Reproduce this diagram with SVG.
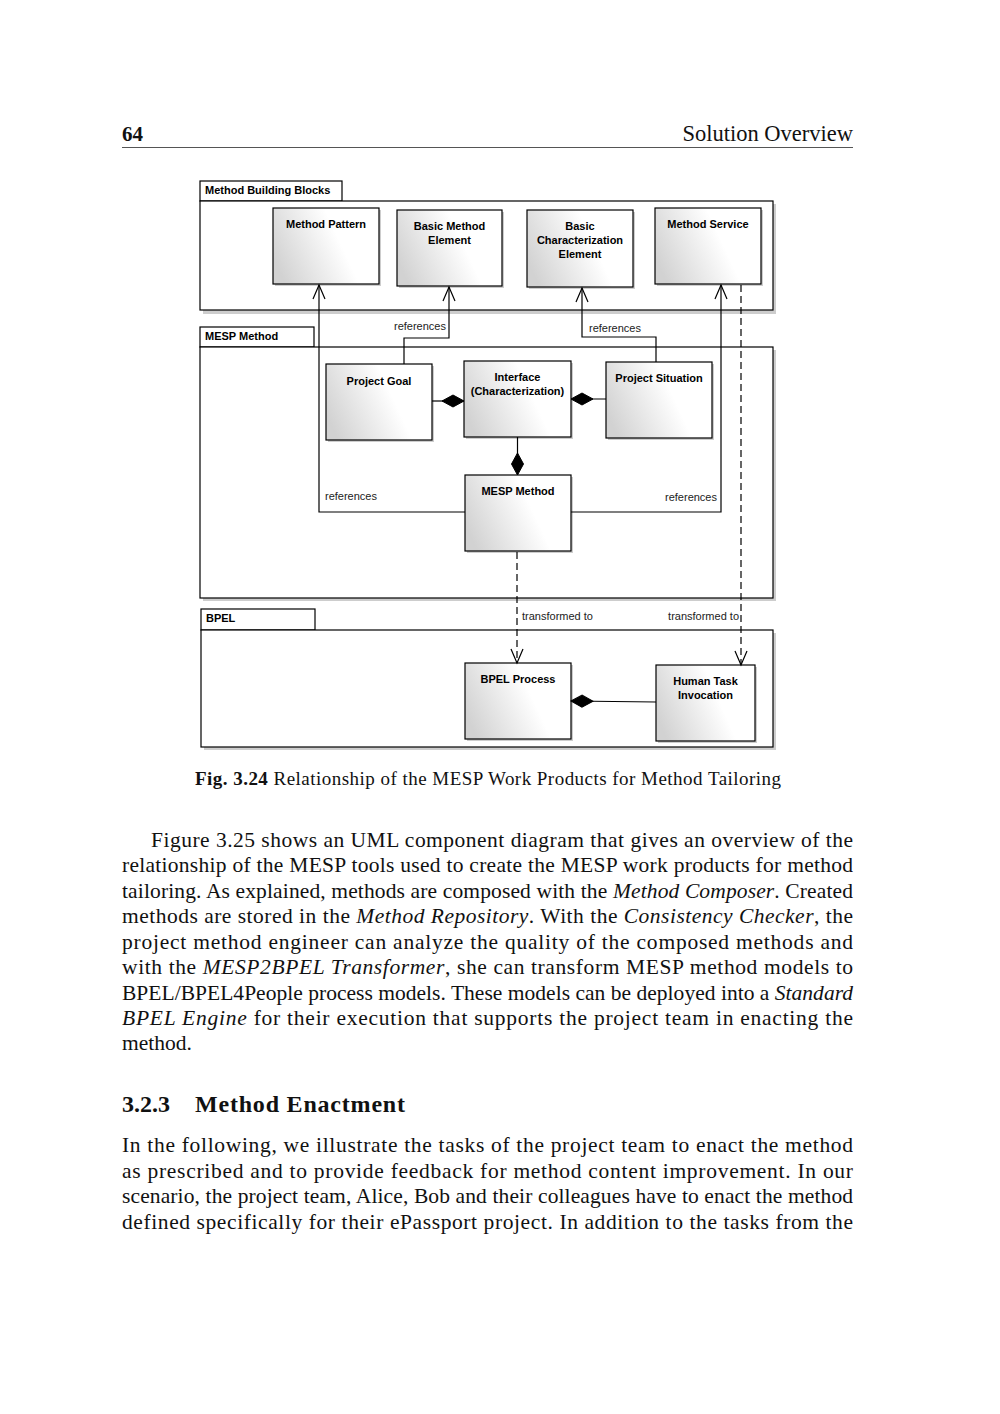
<svg xmlns="http://www.w3.org/2000/svg" width="1000" height="1414" viewBox="0 0 1000 1414">
<style>
.bg{fill:#ffffff}
.node{stroke:#000;stroke-width:1.2;fill:url(#grad)}
.shadow{fill:#b8b8b8;opacity:0.7}
.frame{fill:#fff;stroke:#000;stroke-width:1.2}
.lbl{font-family:"Liberation Sans",Arial,sans-serif;font-size:11px;font-weight:bold;fill:#000}
.rel{font-family:"Liberation Sans",Arial,sans-serif;font-size:11px;fill:#222}
.c{text-anchor:middle}
.conn{fill:none;stroke:#000;stroke-width:1.2}
.dash{stroke-dasharray:7,4}
.body{font-family:"Liberation Serif","Times New Roman",serif;font-size:21.5px;fill:#111}
.it{font-style:italic}
</style>
<defs>
<linearGradient id="grad" x1="0" y1="0.65" x2="0.9" y2="0.35">
<stop offset="0" stop-color="#d2d2d2"/>
<stop offset="0.7" stop-color="#ffffff"/>
<stop offset="1" stop-color="#ffffff"/>
</linearGradient>
<marker id="arrow" markerUnits="userSpaceOnUse" markerWidth="20" markerHeight="20" refX="0" refY="0" orient="auto" overflow="visible">
<path d="M-14,-6 L0,0 L-14,6" fill="none" stroke="#000" stroke-width="1.2"/>
</marker>
<marker id="diamond" markerUnits="userSpaceOnUse" markerWidth="30" markerHeight="20" refX="0" refY="0" orient="auto" overflow="visible">
<path d="M0,0 L11,-6 L22,0 L11,6 Z" fill="#000" stroke="#000" stroke-width="1"/>
</marker>
</defs>
<rect class="bg" x="0" y="0" width="1000" height="1414"/>

<!-- page header -->
<g id="header">
<text x="122" y="141" class="body" style="font-weight:bold;font-size:21px">64</text>
<text x="853" y="141" class="body" style="text-anchor:end;font-size:22.5px">Solution Overview</text>
<line x1="122" y1="147.5" x2="853" y2="147.5" stroke="#555" stroke-width="1"/>
</g>

<!-- packages -->
<g id="pkg-mbb">
<rect class="shadow" x="203" y="204" width="573" height="110"/>
<rect class="frame" x="200" y="181" width="142" height="20"/>
<rect class="frame" x="200" y="201" width="573" height="109"/>
<text x="205" y="194" class="lbl">Method Building Blocks</text>
</g>
<g id="pkg-mesp">
<rect class="shadow" x="203" y="350" width="573" height="251"/>
<rect class="frame" x="200" y="327" width="114" height="20"/>
<rect class="frame" x="200" y="347" width="573" height="251"/>
<text x="205" y="340" class="lbl">MESP Method</text>
</g>
<g id="pkg-bpel">
<rect class="shadow" x="204" y="633" width="572" height="117"/>
<rect class="frame" x="201" y="609" width="114" height="21"/>
<rect class="frame" x="201" y="630" width="572" height="117"/>
<text x="206" y="622" class="lbl">BPEL</text>
</g>

<!-- nodes -->
<g id="method-pattern">
<rect class="shadow" x="275" y="210" width="106" height="76"/>
<rect class="node" x="273" y="208" width="106" height="76"/>
<text x="326" y="228" class="lbl c">Method Pattern</text>
</g>
<g id="basic-method-element">
<rect class="shadow" x="399" y="212" width="105" height="76"/>
<rect class="node" x="397" y="210" width="105" height="76"/>
<text x="449.5" y="230" class="lbl c">Basic Method</text>
<text x="449.5" y="244" class="lbl c">Element</text>
</g>
<g id="basic-characterization-element">
<rect class="shadow" x="529" y="212" width="106" height="77"/>
<rect class="node" x="527" y="210" width="106" height="77"/>
<text x="580" y="230" class="lbl c">Basic</text>
<text x="580" y="244" class="lbl c">Characterization</text>
<text x="580" y="258" class="lbl c">Element</text>
</g>
<g id="method-service">
<rect class="shadow" x="657" y="210" width="106" height="76"/>
<rect class="node" x="655" y="208" width="106" height="76"/>
<text x="708" y="228" class="lbl c">Method Service</text>
</g>
<g id="project-goal">
<rect class="shadow" x="328" y="366" width="106" height="76"/>
<rect class="node" x="326" y="364" width="106" height="76"/>
<text x="379" y="385" class="lbl c">Project Goal</text>
</g>
<g id="interface-characterization">
<rect class="shadow" x="466" y="363" width="107" height="76"/>
<rect class="node" x="464" y="361" width="107" height="76"/>
<text x="517.5" y="381" class="lbl c">Interface</text>
<text x="517.5" y="395" class="lbl c">(Characterization)</text>
</g>
<g id="project-situation">
<rect class="shadow" x="608" y="364" width="106" height="76"/>
<rect class="node" x="606" y="362" width="106" height="76"/>
<text x="659" y="382" class="lbl c">Project Situation</text>
</g>
<g id="mesp-method">
<rect class="shadow" x="467" y="477" width="106" height="76"/>
<rect class="node" x="465" y="475" width="106" height="76"/>
<text x="518" y="495" class="lbl c">MESP Method</text>
</g>
<g id="bpel-process">
<rect class="shadow" x="467" y="665" width="106" height="76"/>
<rect class="node" x="465" y="663" width="106" height="76"/>
<text x="518" y="683" class="lbl c">BPEL Process</text>
</g>
<g id="human-task-invocation">
<rect class="shadow" x="658" y="667" width="99" height="76"/>
<rect class="node" x="656" y="665" width="99" height="76"/>
<text x="705.5" y="685" class="lbl c">Human Task</text>
<text x="705.5" y="699" class="lbl c">Invocation</text>
</g>

<!-- connectors -->
<g id="connectors">
<path class="conn" d="M465,512 H319 V285" marker-end="url(#arrow)"/>
<path class="conn" d="M571,512 H721 V285" marker-end="url(#arrow)"/>
<path class="conn" d="M404,364 V338 H449 V287" marker-end="url(#arrow)"/>
<path class="conn" d="M656,362 V337 H582 V288" marker-end="url(#arrow)"/>
<path class="conn" d="M464,401 H432" marker-start="url(#diamond)"/>
<path class="conn" d="M571,399 H606" marker-start="url(#diamond)"/>
<path class="conn" d="M517.5,475 V437" marker-start="url(#diamond)"/>
<path class="conn" d="M571,701 L656,702" marker-start="url(#diamond)"/>
<path class="conn dash" d="M517,552 V663" marker-end="url(#arrow)"/>
<path class="conn dash" d="M741,285 V665" marker-end="url(#arrow)"/>
<text x="325" y="500" class="rel">references</text>
<text x="717" y="501" class="rel" text-anchor="end">references</text>
<text x="394" y="330" class="rel">references</text>
<text x="589" y="332" class="rel">references</text>
<text x="522" y="620" class="rel">transformed to</text>
<text x="739" y="620" class="rel" text-anchor="end">transformed to</text>
</g>

<!-- caption -->
<g id="caption">
<text x="195" y="785" class="body" style="font-size:19px" textLength="586" lengthAdjust="spacing"><tspan font-weight="bold">Fig. 3.24</tspan> Relationship of the MESP Work Products for Method Tailoring</text>
</g>

<!-- body text -->
<g id="paragraph1">
<text x="151" y="847" class="body" textLength="702" lengthAdjust="spacing">Figure 3.25 shows an UML component diagram that gives an overview of the</text>
<text x="122" y="872" class="body" textLength="731" lengthAdjust="spacing">relationship of the MESP tools used to create the MESP work products for method</text>
<text x="122" y="898" class="body" textLength="731" lengthAdjust="spacing">tailoring. As explained, methods are composed with the <tspan class="it">Method Composer</tspan>. Created</text>
<text x="122" y="923" class="body" textLength="731" lengthAdjust="spacing">methods are stored in the <tspan class="it">Method Repository</tspan>.  With the <tspan class="it">Consistency Checker</tspan>, the</text>
<text x="122" y="949" class="body" textLength="731" lengthAdjust="spacing">project method engineer can analyze the quality of the composed methods and</text>
<text x="122" y="974" class="body" textLength="731" lengthAdjust="spacing">with the <tspan class="it">MESP2BPEL Transformer</tspan>, she can transform MESP method models to</text>
<text x="122" y="1000" class="body" textLength="731" lengthAdjust="spacing">BPEL/BPEL4People process models. These models can be deployed into a <tspan class="it">Standard</tspan></text>
<text x="122" y="1025" class="body" textLength="731" lengthAdjust="spacing"><tspan class="it">BPEL Engine</tspan> for their execution that supports the project team in enacting the</text>
<text x="122" y="1050" class="body">method.</text>
</g>
<g id="heading">
<text x="122" y="1112" class="body" style="font-weight:bold;font-size:24px">3.2.3</text>
<text x="195" y="1112" class="body" style="font-weight:bold;font-size:24px" textLength="210" lengthAdjust="spacing">Method Enactment</text>
</g>
<g id="paragraph2">
<text x="122" y="1152" class="body" textLength="731" lengthAdjust="spacing">In the following, we illustrate the tasks of the project team to enact the method</text>
<text x="122" y="1178" class="body" textLength="731" lengthAdjust="spacing">as prescribed and to provide feedback for method content improvement. In our</text>
<text x="122" y="1203" class="body" textLength="731" lengthAdjust="spacing">scenario, the project team, Alice, Bob and their colleagues have to enact the method</text>
<text x="122" y="1229" class="body" textLength="731" lengthAdjust="spacing">defined specifically for their ePassport project. In addition to the tasks from the</text>
</g>
</svg>
